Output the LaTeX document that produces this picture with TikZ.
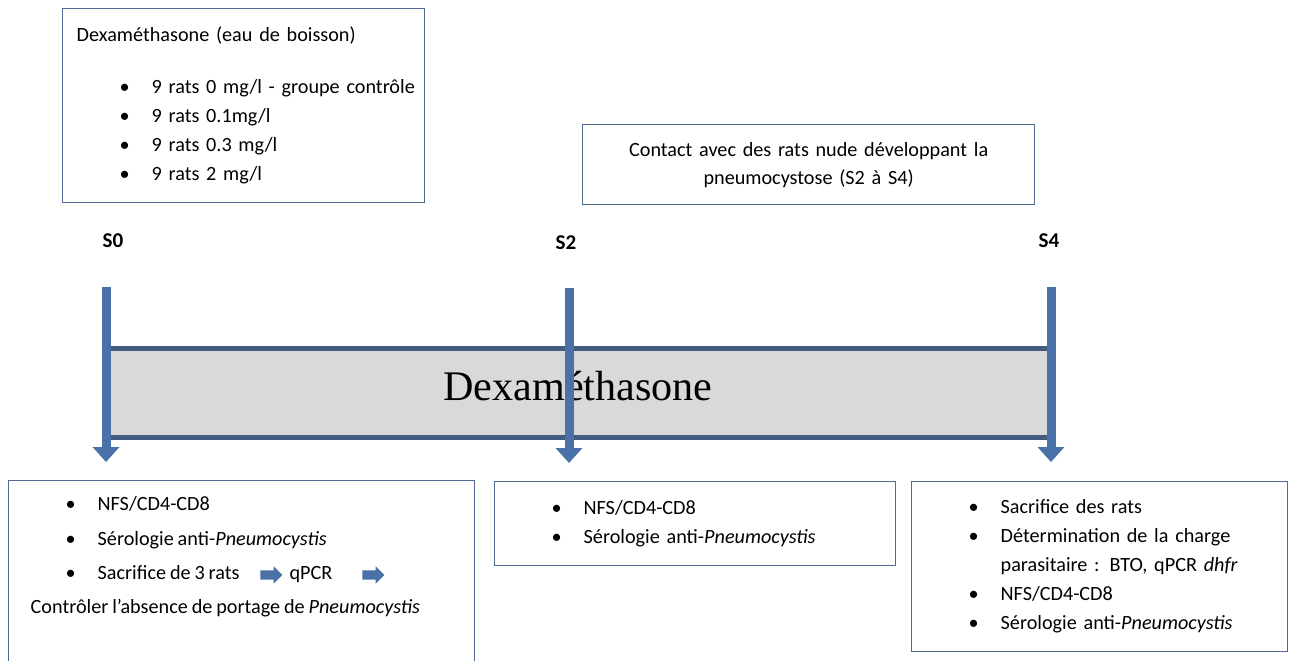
\documentclass[tikz,border=0pt]{standalone}
\usepackage{fontspec}
\setmainfont[WordSpace=0.85]{Carlito}
\newfontfamily\timesfont{Liberation Serif}
\usepackage{tikz}
\usetikzlibrary{arrows.meta}
\usetikzlibrary{shapes.arrows}
\usepackage{xcolor}

\definecolor{bleu}{RGB}{74,113,168}
\definecolor{cadre}{RGB}{80,108,148}
\definecolor{gris}{RGB}{217,217,217}

\newcommand{\puce}[1]{\hspace*{0.86cm}\makebox[0.64cm][l]{\textbullet}\mbox{#1}}

\tikzset{
  boite/.style={draw=cadre,line width=0.8pt,rectangle,anchor=north west,
    inner xsep=0.28cm,align=left,font=\fontsize{11.5}{16.5}\selectfont},
  jalon/.style={font=\fontsize{12}{14}\selectfont\bfseries},
  fleche/.style={bleu,line width=0.18cm,-{Triangle[width=0.52cm,length=0.3cm]}},
  petitefleche/.style={single arrow,fill=bleu,inner xsep=0,inner ysep=0.085cm,
    minimum height=0.44cm,single arrow head extend=0.08cm}
}

\begin{document}
\begin{tikzpicture}[x=0.02cm,y=-0.02cm]
		\useasboundingbox (0,0) rectangle (1294,660);
%		boites du haut
		\node[boite,minimum width=7.24cm,minimum height=3.88cm,text width=6.68cm] (doses) at (62,8)
		  {Dexaméthasone (eau de boisson)\\[0.46cm]
		   \puce{9 rats 0 mg/l - groupe contrôle}\\
		   \puce{9 rats 0.1mg/l}\\
		   \puce{9 rats 0.3 mg/l}\\
		   \puce{9 rats 2 mg/l}};
		\node[boite,align=center,minimum width=9.04cm,minimum height=1.6cm,text width=8.48cm,
		  font=\fontsize{11.5}{16}\selectfont] (contact) at (582,124)
		  {Contact avec des rats nude développant la\\ pneumocystose (S2 à S4)};
%		semaines
		\node[jalon] (s0) at (113,241) {S0};
		\node[jalon] (s2) at (566,243) {S2};
		\node[jalon] (s4) at (1049,241) {S4};
%		barre du traitement
		\draw[cadre!85!black,line width=0.1cm,fill=gris] (106,348) rectangle (1051,437);
		\node[font=\timesfont\fontsize{24}{28}\selectfont] (dexa) at (578,386) {Dexaméthasone};
		\coordinate (h0) at (106,287);
		\coordinate (b0) at (106,462);
		\coordinate (h2) at (569,288);
		\coordinate (b2) at (569,463);
		\coordinate (h4) at (1051,287);
		\coordinate (b4) at (1051,462);
		\draw[fleche] (h0) -- (b0);
		\draw[fleche] (h2) -- (b2);
		\draw[fleche] (h4) -- (b4);
%		boites du bas
		\node[boite,inner ysep=0.32cm,font=\fontsize{11.5}{19.5}\selectfont] (bilan0) at (8,480)
		  {\parbox[t][4cm][t]{8.76cm}{%
		   \puce{NFS/CD4-CD8}\\
		   \puce{Sérologie anti-\textit{Pneumocystis}}\\
		   \puce{Sacrifice de 3 rats\hspace*{1.0cm}qPCR}\\
		   \hspace*{0.16cm}Contrôler l’absence de portage de \textit{Pneumocystis}}};
		\node[petitefleche] (f1) at (269,575) {};
		\node[petitefleche] (f2) at (371,575) {};
		\node[boite,minimum width=8.02cm,minimum height=1.68cm,text width=7.46cm] (bilan2) at (494,481)
		  {\puce{NFS/CD4-CD8}\\
		   \puce{Sérologie anti-\textit{Pneumocystis}}};
		\node[boite,minimum width=7.52cm,minimum height=3.4cm,text width=6.96cm] (bilan4) at (911,481)
		  {\puce{Sacrifice des rats}\\
		   \puce{Détermination de la charge}\\
		   \hspace*{1.5cm}parasitaire : BTO, qPCR \textit{dhfr}\\
		   \puce{NFS/CD4-CD8}\\
		   \puce{Sérologie anti-\textit{Pneumocystis}}};
\end{tikzpicture}
\end{document}
